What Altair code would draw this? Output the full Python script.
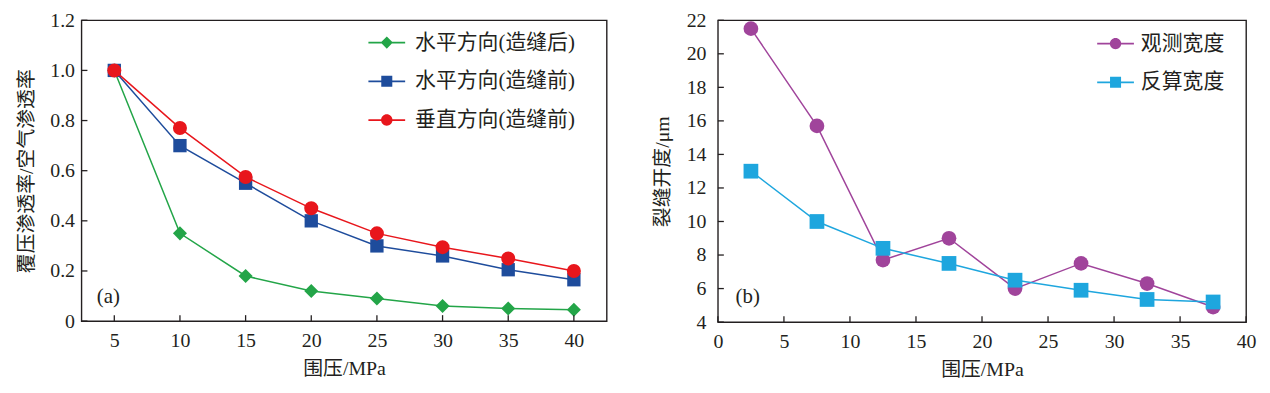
import altair as alt
import pandas as pd

# ---------------- data (a) ----------------
pressure_a = [5, 10, 15, 20, 25, 30, 35, 40]
h_after = [1.0, 0.35, 0.18, 0.12, 0.09, 0.06, 0.05, 0.045]
h_before = [1.0, 0.70, 0.55, 0.40, 0.30, 0.26, 0.205, 0.165]
v_before = [1.0, 0.77, 0.575, 0.45, 0.35, 0.295, 0.25, 0.20]
series_a = ["水平方向(造缝后)", "水平方向(造缝前)", "垂直方向(造缝前)"]
colors_a = ["#23a548", "#1e4c9c", "#e8161c"]
xticks_a = [5, 10, 15, 20, 25, 30, 35, 40]
yticks_a = [0, 0.2, 0.4, 0.6, 0.8, 1.0, 1.2]

# ---------------- data (b) ----------------
pressure_b = [2.5, 7.5, 12.5, 17.5, 22.5, 27.5, 32.5, 37.5]
observed = [21.5, 15.7, 7.7, 9.0, 6.0, 7.5, 6.3, 4.9]
inverted = [13.0, 10.0, 8.4, 7.5, 6.5, 5.9, 5.35, 5.2]
series_b = ["观测宽度", "反算宽度"]
colors_b = ["#a0449b", "#1ea6de"]
xticks_b = [0, 5, 10, 15, 20, 25, 30, 35, 40]
yticks_b = [4, 6, 8, 10, 12, 14, 16, 18, 20, 22]

NUM_FONT = "Liberation Serif, Noto Sans CJK SC"
CJK_FONT = "Liberation Serif, Noto Sans CJK SC"
INK = "#231f20"

W_A, H_A = 529, 303
W_B, H_B = 532, 304

# legend symbol paths: thin bar (the line) + marker, all filled
BAR = "M-1,-0.045H1V0.045H-1Z"
P_DIAMOND = BAR + "M-0.33,0L0,-0.33L0.33,0L0,0.33Z"
P_SQUARE = BAR + "M-0.3,-0.3L0.3,-0.3L0.3,0.3L-0.3,0.3Z"
P_CIRCLE = BAR + "M0.31,0A0.31,0.31,0,1,1,-0.31,0A0.31,0.31,0,1,1,0.31,0Z"

df_a = pd.DataFrame({
    "p": pressure_a * 3,
    "v": h_after + h_before + v_before,
    "s": [series_a[0]] * 8 + [series_a[1]] * 8 + [series_a[2]] * 8,
})
df_b = pd.DataFrame({
    "p": pressure_b * 2,
    "v": observed + inverted,
    "s": [series_b[0]] * 8 + [series_b[1]] * 8,
})


def panel(df, series, colors, shapes, sizes, legend_paths, xdom, ydom, xticks, yticks,
          W, H, ytitle, ylabel_expr, label_pad_y, title_pad_y, legend_x, legend_y,
          label_offset, tag, tag_x, tag_y):
    xs = alt.Scale(domain=xdom, nice=False, zero=False)
    ys = alt.Scale(domain=ydom, nice=False, zero=False)
    xaxis = alt.Axis(
        values=xticks, title="围压/MPa", grid=False, domain=False, ticks=False,
        labelFont=NUM_FONT, labelFontSize=20, labelColor=INK, labelPadding=10,
        titleFont=CJK_FONT, titleFontSize=20, titleFontWeight="normal",
        titleColor=INK, titlePadding=8, labelFlush=False, labelOverlap=False)
    yaxis = alt.Axis(
        values=yticks, title=ytitle, grid=False, domain=False, ticks=False,
        labelFont=NUM_FONT, labelFontSize=20, labelColor=INK,
        labelPadding=label_pad_y, labelExpr=ylabel_expr, labelFlush=False,
        labelOverlap=False,
        titleFont=CJK_FONT, titleFontSize=20, titleFontWeight="normal",
        titleColor=INK, titlePadding=title_pad_y)
    x = alt.X("p:Q", scale=xs, axis=xaxis)
    y = alt.Y("v:Q", scale=ys, axis=yaxis)
    leg_common = dict(
        title=None, orient="none", legendX=legend_x, legendY=legend_y,
        symbolSize=1369, labelFont=CJK_FONT, symbolStrokeWidth=0,
        labelFontSize=21, labelColor=INK, labelOffset=label_offset,
        rowPadding=10, padding=0, labelLimit=400)

    series_layers = []
    for name, col, shp, sz in zip(series, colors, shapes, sizes):
        base = alt.Chart(df).transform_filter(alt.datum.s == name)
        series_layers.append(base.mark_line(strokeWidth=1.5, color=col).encode(x=x, y=y))
        series_layers.append(base.mark_point(
            filled=True, opacity=1, shape=shp, size=sz, color=col).encode(x=x, y=y))
    # legend carrier: its marks are pushed outside the clipped plot, only the legend shows
    leg = alt.Chart(df).mark_point(filled=True, opacity=1, clip=True).encode(
        x=alt.value(-300), y=alt.value(-300),
        color=alt.Color("s:N", scale=alt.Scale(domain=series, range=colors),
                        legend=alt.Legend(**leg_common)),
        shape=alt.Shape("s:N", scale=alt.Scale(domain=series, range=legend_paths),
                        legend=alt.Legend(**leg_common)),
    )
    xt = alt.Chart(pd.DataFrame({"p": xticks})).mark_rule(color=INK, strokeWidth=1.3).encode(
        x=x, y=alt.value(H), y2=alt.value(H - 6))
    yt = alt.Chart(pd.DataFrame({"v": yticks})).mark_rule(color=INK, strokeWidth=1.3).encode(
        y=y, x=alt.value(0), x2=alt.value(6))
    txt = alt.Chart(pd.DataFrame({"lab": [tag]})).mark_text(
        font=NUM_FONT, fontSize=21, color=INK).encode(
        text="lab:N", x=alt.value(tag_x), y=alt.value(tag_y))
    return alt.layer(*series_layers, leg, xt, yt, txt).properties(width=W, height=H)


left = panel(df_a, series_a, colors_a, ["diamond", "square", "circle"], [200, 180, 200],
             [P_DIAMOND, P_SQUARE, P_CIRCLE], [2.5, 42.5], [0, 1.2], xticks_a, yticks_a,
             W_A, H_A, "覆压渗透率/空气渗透率",
             "datum.value == 0 ? '0' : format(datum.value, '.1f')", 7, 13,
             289, 4, 10, "(a)", 27, 279)
right = panel(df_b, series_b, colors_b, ["circle", "square"], [220, 220],
              [P_CIRCLE, P_SQUARE], [0, 40], [4, 22], xticks_b, yticks_b,
              W_B, H_B, "裂缝开度/μm", "format(datum.value, 'd')", 12, 14,
              382, 5, 7, "(b)", 30, 279)

chart = alt.hconcat(left, right, spacing=44).resolve_scale(
    x="independent", y="independent", color="independent", shape="independent"
).properties(
    padding={"top": 0, "left": 8, "right": 5, "bottom": 5}, background="white"
).configure_view(stroke=INK, strokeWidth=1.4)

chart.save("out.html", embed_options={"renderer": "svg", "actions": False})
